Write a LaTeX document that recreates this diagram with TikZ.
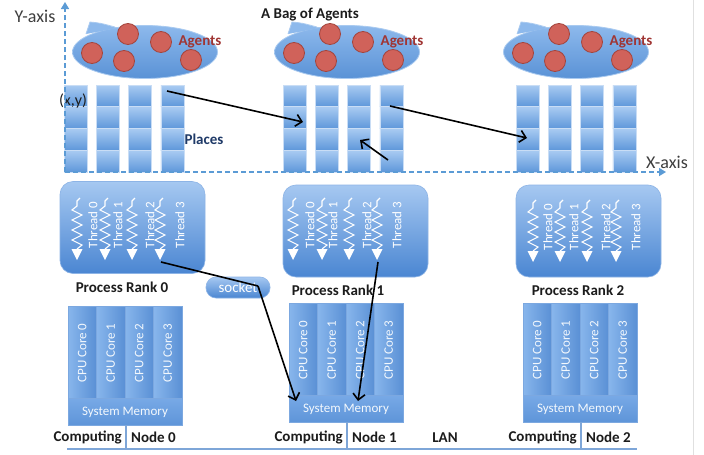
\documentclass[tikz,border=0pt]{standalone}
\usepackage{fontspec}
\setmainfont{Carlito}
\usetikzlibrary{arrows.meta,shapes.geometric,calc}

\definecolor{axisBlue}{HTML}{5B9BD5}
\definecolor{cellTop}{HTML}{A9CBF2}
\definecolor{cellBot}{HTML}{5E97DA}
\definecolor{cellEdge}{HTML}{C9DDF5}
\definecolor{bagTop}{HTML}{8DB9EC}
\definecolor{bagBot}{HTML}{5A92D6}
\definecolor{bagEdge}{HTML}{A9CAF0}
\definecolor{agentRed}{HTML}{D0625A}
\definecolor{agentEdge}{HTML}{A4443C}
\definecolor{agentText}{HTML}{A03533}
\definecolor{boxTop}{HTML}{A6C8F1}
\definecolor{boxBot}{HTML}{4A86D2}
\definecolor{boxEdge}{HTML}{8DB4E6}
\definecolor{coreL}{HTML}{88B6EC}
\definecolor{coreR}{HTML}{5A90D5}
\definecolor{coreEdge}{HTML}{7CA8E0}
\definecolor{memTop}{HTML}{78A9E6}
\definecolor{memBot}{HTML}{5E95D9}
\definecolor{lanBlue}{HTML}{7EA6D8}
\definecolor{darkText}{HTML}{1C1C1C}
\definecolor{navyText}{HTML}{1F3A68}

\begin{document}
\begin{tikzpicture}[x=1pt,y=-1pt,
  cell/.style={rectangle,minimum width=23pt,minimum height=21.75pt,inner sep=0pt,
    top color=cellTop,bottom color=cellBot,draw=cellEdge,line width=0.6pt},
  bag/.style={ellipse,minimum width=145pt,minimum height=53pt,inner sep=0pt,
    top color=bagTop,bottom color=bagBot,draw=bagEdge,line width=0.8pt},
  agent/.style={circle,minimum size=21pt,inner sep=0pt,fill=agentRed,draw=agentEdge,line width=0.8pt},
  agentlbl/.style={text=agentText,font=\fontsize{15}{15}\selectfont\bfseries,inner sep=0pt},
  procbox/.style={rectangle,rounded corners=13pt,minimum width=145pt,minimum height=92pt,
    inner sep=0pt,top color=boxTop,bottom color=boxBot,draw=boxEdge,line width=0.6pt},
  threadlbl/.style={rotate=90,text=white,font=\fontsize{13}{13}\selectfont,inner sep=0pt},
  core/.style={rectangle,minimum width=28.5pt,minimum height=92pt,inner sep=0pt,
    left color=coreL,right color=coreR,draw=coreEdge,line width=0.5pt},
  corelbl/.style={rotate=90,text=white!90!coreL,font=\fontsize{13}{13}\selectfont,inner sep=0pt},
  mem/.style={rectangle,minimum width=114pt,minimum height=27pt,inner sep=0pt,
    top color=memTop,bottom color=memBot,draw=coreEdge,line width=0.5pt},
  memlbl/.style={text=white!90!coreL,font=\fontsize{13}{13}\selectfont,inner sep=0pt},
  lbl/.style={font=\fontsize{15}{15}\selectfont\bfseries,text=darkText,inner sep=0pt},
  axislbl/.style={font=\fontsize{18}{18}\selectfont,text=darkText!85,inner sep=0pt},
  axis/.style={draw=axisBlue,line width=1.6pt,dash pattern=on 5pt off 3pt,
    -{Triangle[length=7pt,width=8pt]}},
  link/.style={draw=black,line width=1.6pt,-{Straight Barb[length=6pt,width=12pt]}},
  plainlink/.style={draw=black,line width=1.6pt},
  wire/.style={draw=lanBlue,line width=1.6pt},
  zig/.style={draw=white,line width=1.1pt,line join=miter},
  socketbox/.style={rectangle,rounded corners=10pt,minimum width=64pt,minimum height=21pt,
    inner sep=0pt,top color=boxTop,bottom color=boxBot,draw=boxEdge,line width=0.6pt,
    text=white,font=\fontsize{15}{15}\selectfont}
]
\useasboundingbox (0,0) rectangle (704,455);
\fill[white] (0,0) rectangle (704,455);
\draw[black!12,line width=0.8pt] (693,0) -- (693,455);

% ---------- bags of agents ----------
\foreach \g/\cx in {0/145,1/347,2/576}{
  \node[bag] (bag\g) at (\cx,52) {};
  % small flap on the upper left of the bag
  \fill[bagTop] (\cx-59,34) -- (\cx-55,22) .. controls (\cx-45,23) .. (\cx-28,28) -- cycle;
  \draw[bagEdge,line width=0.8pt] (\cx-59,34) -- (\cx-55,22) .. controls (\cx-45,23) .. (\cx-30,27);
  \node[agent] (ag\g a) at (\cx-53,53) {};
  \node[agent] (ag\g b) at (\cx-17,34) {};
  \node[agent] (ag\g c) at (\cx-21,61) {};
  \node[agent] (ag\g d) at (\cx+16,42) {};
  \node[agent] (ag\g e) at (\cx+46,60) {};
  \node[agentlbl] (agl\g) at (\cx+55,42) {Agents};
}
\node[lbl] (title) at (310,15) {A Bag of Agents};

% ---------- places grid ----------
\foreach \g/\base in {0/64,1/283,2/516}{
  \foreach \c in {0,1,2,3}{
    \foreach \r in {0,1,2,3}{
      \node[cell] (p-\g-\c-\r) at ({\base+11.5+32.3*\c},{85+10.875+21.75*\r}) {};
    }
  }
}
\node[font=\fontsize{16}{16}\selectfont,text=darkText,inner sep=0pt] (xy) at (73,101) {(x,y)};
\node[lbl,text=navyText] (places) at (204,139) {Places};

% ---------- axes ----------
\coordinate (origin) at (65,172);
\coordinate (ytip) at (65,2);
\coordinate (xtip) at (666,172);
\draw[axis] (origin) -- (ytip);
\draw[axis] (origin) -- (xtip);
\node[axislbl] (ylbl) at (35,16) {Y-axis};
\node[axislbl] (xlbl) at (667,162) {X-axis};

% ---------- agent migration between places ----------
\coordinate (m1s) at (167,91);
\coordinate (m1e) at (303,122);
\coordinate (m2s) at (390,106);
\coordinate (m2e) at (527,138);
\coordinate (m3s) at (388,160);
\coordinate (m3e) at (360,140);
\draw[link] (m1s) -- (m1e);
\draw[link] (m2s) -- (m2e);
\draw[link] (m3s) -- (m3e);

% ---------- processes with threads ----------
\node[procbox] (proc0) at (132.5,227.5) {};
\node[procbox] (proc1) at (355.5,231) {};
\node[procbox] (proc2) at (588.5,231) {};

\foreach \b/\top/\za/\zb/\zc/\zd/\la/\lb/\lc/\ld in
  {0/198/77/105/132/160/93/118/150/180,
   1/198/293/322/349/377/310/333/367/397,
   2/200/533/560/587/616/548/574/606/636}{
  \foreach \k/\c/\l in {0/\za/\la,1/\zb/\lb,2/\zc/\lc,3/\zd/\ld}{
    \draw[zig] (\c+3,\top) -- (\c,\top+3) -- (\c,\top+8)
      -- (\c-5,\top+12) -- (\c+5,\top+17) -- (\c-5,\top+22) -- (\c+5,\top+27)
      -- (\c-5,\top+32) -- (\c+5,\top+37) -- (\c-5,\top+42) -- (\c+5,\top+47)
      -- (\c,\top+51);
    \fill[white] (\c-5.5,\top+51) -- (\c+5.5,\top+51) -- (\c,\top+62) -- cycle;
    \coordinate (t-\b-\k) at (\c+1,\top+64);
    \node[threadlbl] (tl-\b-\k) at (\l,\top+27) {Thread \k};
  }
}

\node[lbl] (rank0) at (122,287) {Process Rank 0};
\node[lbl] (rank1) at (338,290) {Process Rank 1};
\node[lbl] (rank2) at (578,290) {Process Rank 2};

% ---------- computing nodes ----------
\foreach \n/\L/\T in {0/68/306,1/289/303,2/523/303}{
  \foreach \k in {0,1,2,3}{
    \node[core] (core-\n-\k) at ({\L+14.25+28.5*\k},{\T+46}) {};
    \node[corelbl] (cl-\n-\k) at ({\L+14.25+28.5*\k},{\T+47}) {CPU Core \k};
  }
  \node[mem] (mem\n) at ({\L+57},{\T+105.5}) {};
  \node[memlbl] (ml\n) at ({\L+57},{\T+106}) {System Memory};
  \coordinate (lan\n) at ({\L+58},449);
  \draw[wire] (mem\n.south -| lan\n) -- (lan\n);
  \node[lbl,anchor=east] (cmp\n) at ({\L+54},437) {Computing};
  \node[lbl,anchor=west] (nd\n) at ({\L+63},437) {Node \n};
}
\coordinate (lanL) at (67,449);
\coordinate (lanR) at (637,449);
\draw[wire] (lanL) -- (lanR);
\node[lbl] (lan) at (445,438) {LAN};

% ---------- socket and memory access ----------
\node[socketbox] (sock) at (238,287.5) {socket};
\coordinate (sockbend) at (258,286);
\coordinate (memA) at (296,401);
\coordinate (memB) at (358,401);
\draw[plainlink] (t-0-3) -- (sockbend);
\draw[link] (sockbend) -- (memA);
\draw[link] (t-1-3) -- (memB);
\end{tikzpicture}
\end{document}
